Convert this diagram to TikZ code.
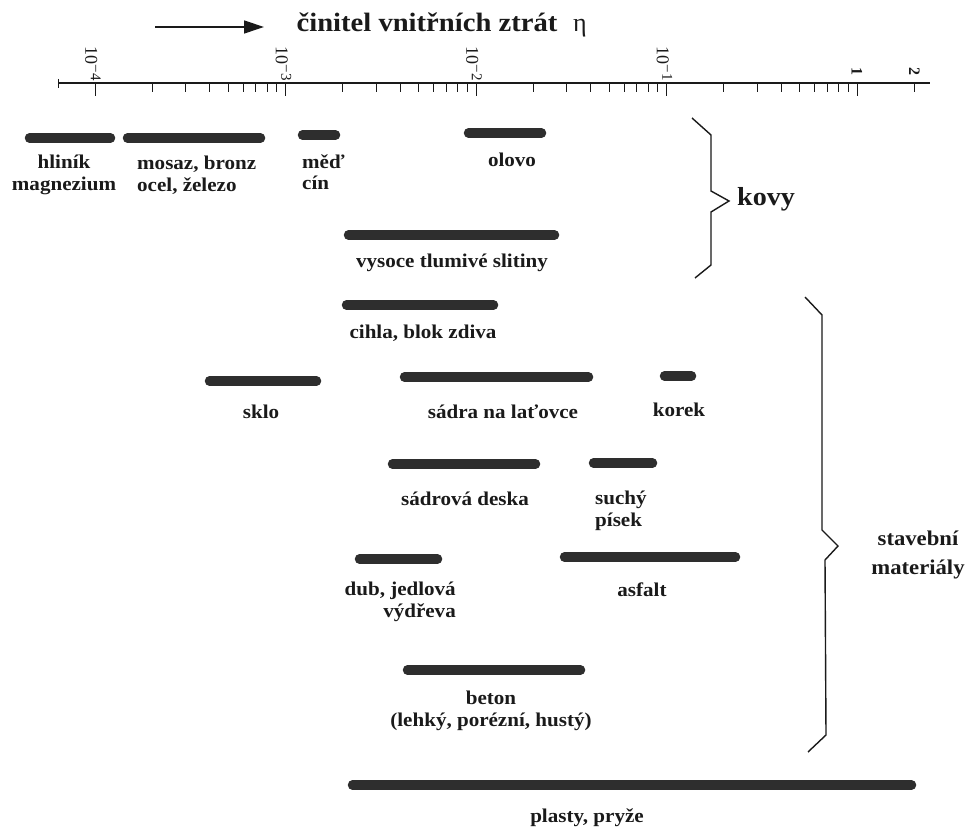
\documentclass[tikz,border=0pt]{standalone}
\usepackage{fontspec}
\setmainfont{Liberation Serif}
\newfontfamily\labfont[FakeStretch=1.08]{Liberation Serif}
\usetikzlibrary{arrows.meta}
\definecolor{barc}{HTML}{2E2E2E}
\definecolor{ink}{HTML}{1A1A1A}
\begin{document}
\begin{tikzpicture}[x=1pt,y=-1pt,
  bar/.style={line width=9.5pt, line cap=round, draw=barc},
  lab/.style={font=\labfont\fontsize{19.5}{21.5}\selectfont\bfseries, text=ink, inner sep=0pt, align=center},
  grp/.style={font=\labfont\fontsize{26}{27}\selectfont\bfseries, text=ink, inner sep=0pt, align=center},
  brace/.style={draw=ink, line width=1.4pt, line join=miter},
  tk/.style={draw=ink, line width=1pt},
  ticklab/.style={font=\fontsize{18}{18}\selectfont, text=ink, rotate=-90, inner sep=0pt}]
\useasboundingbox (0,0) rectangle (977,829);
\fill[white] (0,0) rectangle (977,829);

% title and arrow
\coordinate (arrL) at (155,27);
\coordinate (arrR) at (264,27);
\draw[ink, line width=1.3pt, -{Triangle[length=20pt,width=13pt]}] (arrL) -- (arrR);
\node[font=\labfont\fontsize{26.5}{27}\selectfont\bfseries, text=ink, anchor=base, inner sep=0pt] (title) at (427,32) {činitel vnitřních ztrát};
\node[font=\fontsize{26}{26}\selectfont, text=ink, anchor=base west, inner sep=0pt] (eta) at (573,32) {η};

% axis
\draw[tk, line width=1.2pt] (58,83) -- (930,83);
\draw[tk] (58,79) -- (58,88);
\foreach \b in {95,285.5,476,666.5}{
  \draw[tk] (\b,83) -- (\b,96);
  \foreach \m in {2,...,9}{
    \pgfmathsetmacro{\xx}{\b+190.5*log10(\m)}
    \draw[tk] (\xx,83) -- (\xx,92);
  }
}
\draw[tk] (857,83) -- (857,96);
\draw[tk] (914.3,83) -- (914.3,92);

% tick labels
\foreach \b/\e/\n in {95/4/la, 285.5/3/lb, 476/2/lc, 666.5/1/ld}{
  \node[ticklab, anchor=east] (\n) at (\b-2,81) {10\raisebox{0.3em}{\fontsize{15}{15}\selectfont −\e}};
}
\node[ticklab, font=\fontsize{16}{16}\selectfont\bfseries, anchor=east] (le) at (857,76) {1};
\node[ticklab, font=\fontsize{16}{16}\selectfont\bfseries, anchor=east] (lf) at (914.3,76) {2};

% bars
\draw[bar] (29.5,138) -- (110.5,138);
\draw[bar] (127.5,138) -- (260.5,138);
\draw[bar] (302.5,135) -- (335.5,135);
\draw[bar] (468.5,133) -- (541.5,133);
\draw[bar] (348.5,235) -- (554.5,235);
\draw[bar] (346.5,305) -- (493.5,305);
\draw[bar] (209.5,381) -- (316.5,381);
\draw[bar] (404.5,377) -- (588.5,377);
\draw[bar] (664.5,376) -- (691.5,376);
\draw[bar] (392.5,464) -- (535.5,464);
\draw[bar] (593.5,463) -- (652.5,463);
\draw[bar] (359.5,559) -- (437.5,559);
\draw[bar] (564.5,557) -- (735.5,557);
\draw[bar] (407.5,670) -- (580.5,670);
\draw[bar] (352.5,785) -- (911.5,785);

% labels
\node[lab] (hlinik) at (64,175) {hliník\\magnezium};
\node[lab, align=left, anchor=west] (mosaz) at (137,175) {mosaz, bronz\\ocel, železo};
\node[lab, align=left, anchor=west] (med) at (302,172) {měď\\cín};
\node[lab] (olovo) at (512,160) {olovo};
\node[lab] (vysoce) at (452,263) {vysoce tlumivé slitiny};
\node[lab] (cihla) at (423,333) {cihla, blok zdiva};
\node[lab] (sklo) at (261,412) {sklo};
\node[lab] (sadra) at (503,412) {sádra na laťovce};
\node[lab] (korek) at (679,410) {korek};
\node[lab] (deska) at (465,499) {sádrová deska};
\node[lab, align=left, anchor=west] (pisek) at (595,511) {suchý\\písek};
\node[lab, align=right, anchor=east] (dub) at (456,602) {dub, jedlová\\výdřeva};
\node[lab] (asfalt) at (642,590) {asfalt};
\node[lab] (beton) at (491,711) {beton\\(lehký, porézní, hustý)};
\node[lab] (plasty) at (587,818) {plasty, pryže};

% braces
\draw[brace] (692,118) -- (711,135) -- (711,191) -- (729,201) -- (711,212) -- (711,265) -- (695,278);
\node[grp, anchor=west] (kovy) at (737,199) {kovy};
\draw[brace] (805,297) -- (822,315) -- (822,530) -- (838,546) -- (825,560) -- (826,735) -- (808,752);
\node[lab, font=\labfont\fontsize{21}{29}\selectfont\bfseries] (stav) at (918,555) {stavební\\materiály};
\end{tikzpicture}
\end{document}
